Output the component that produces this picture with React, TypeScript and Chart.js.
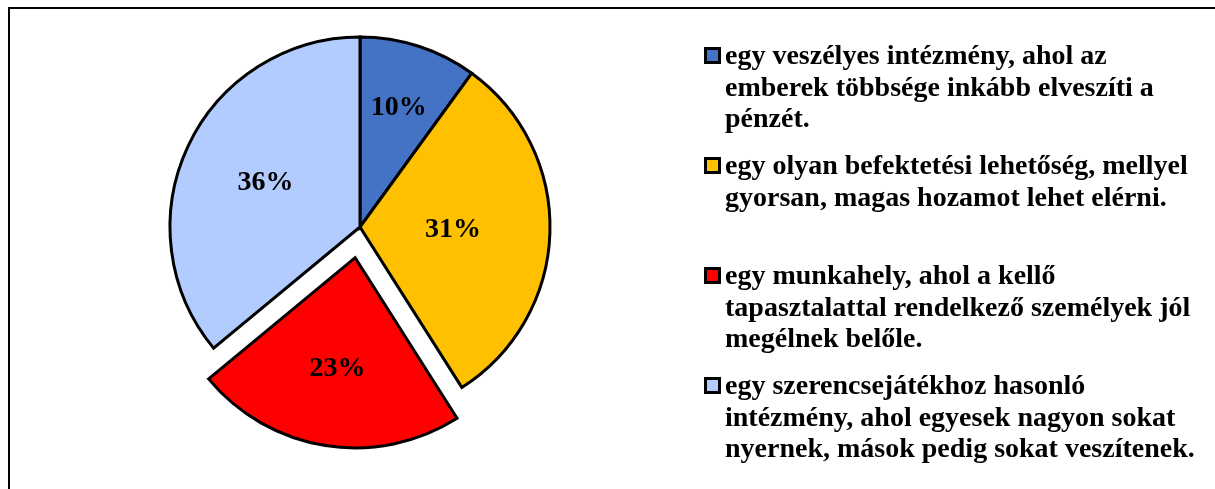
import React, { useEffect, useRef } from "react";
import { Chart, registerables } from "chart.js";

Chart.register(...registerables);

const categories: string[][] = [
  ["egy veszélyes intézmény, ahol az", "emberek többsége inkább elveszíti a", "pénzét."],
  ["egy olyan befektetési lehetőség, mellyel", "gyorsan, magas hozamot lehet elérni."],
  ["egy munkahely, ahol a kellő", "tapasztalattal rendelkező személyek jól", "megélnek belőle."],
  ["egy szerencsejátékhoz hasonló", "intézmény, ahol egyesek nagyon sokat", "nyernek, mások pedig sokat veszítenek."],
];
const values: number[] = [10, 31, 23, 36];
const colors: string[] = ["#4472C4", "#FFC000", "#FF0000", "#B3CCFF"];
const explode: number[] = [0, 0, 124, 0];
const labelRadius: number[] = [0.66, 0.49, 0.59, 0.55];

const FONT = '"Liberation Serif", "Times New Roman", serif';

const labelsPlugin = {
  id: "pctLabels",
  afterDatasetsDraw(chart: any) {
    const ctx = chart.ctx;
    const meta = chart.getDatasetMeta(0);
    const data = chart.data.datasets[0].data as number[];
    ctx.save();
    ctx.font = `bold 28px ${FONT}`;
    ctx.fillStyle = "#000";
    ctx.textAlign = "center";
    ctx.textBaseline = "middle";
    meta.data.forEach((arc: any, i: number) => {
      const mid = (arc.startAngle + arc.endAngle) / 2;
      const off = (arc.options.offset || 0) / 4;
      const r = arc.outerRadius * labelRadius[i];
      const x = arc.x + Math.cos(mid) * (off + r);
      const y = arc.y + Math.sin(mid) * (off + r);
      ctx.fillText(`${data[i]}%`, x, y);
    });
    ctx.restore();
  },
};

const legendPlugin = {
  id: "sideLegend",
  afterDraw(chart: any) {
    const ctx = chart.ctx;
    const labels = chart.data.labels as string[][];
    const bg = chart.data.datasets[0].backgroundColor as string[];
    const x0 = 704;
    const tx = 725;
    const y0 = 57;
    const itemGap = 110;
    const lineGap = 31.5;
    ctx.save();
    ctx.font = `bold 28px ${FONT}`;
    ctx.textBaseline = "middle";
    ctx.textAlign = "left";
    labels.forEach((lines, i) => {
      const y = y0 + i * itemGap;
      ctx.fillStyle = "#000";
      ctx.fillRect(x0, y - 10, 17, 17);
      ctx.fillStyle = bg[i];
      ctx.fillRect(x0 + 3, y - 7, 11, 11);
      ctx.fillStyle = "#000";
      lines.forEach((ln, j) => {
        ctx.fillText(ln, tx, y + j * lineGap);
      });
    });
    ctx.restore();
  },
};

export default function App() {
  const ref = useRef<HTMLCanvasElement>(null);
  useEffect(() => {
    if (!ref.current) return;
    const chart = new Chart(ref.current, {
      type: "pie",
      data: {
        labels: categories as any,
        datasets: [
          {
            data: values,
            backgroundColor: colors,
            borderColor: "#000",
            borderWidth: 3,
            borderJoinStyle: "miter",
            offset: explode,
          } as any,
        ],
      },
      options: {
        animation: false,
        responsive: false,
        maintainAspectRatio: false,
        radius: 190,
        layout: { padding: { left: 0, right: 495, top: 0, bottom: 35 } },
        plugins: {
          legend: { display: false },
          tooltip: { enabled: false },
        },
        events: [],
      } as any,
      plugins: [labelsPlugin, legendPlugin],
    });
    return () => chart.destroy();
  }, []);
  return (
    <div style={{ position: "absolute", left: 0, top: 0, width: 1215, height: 489, overflow: "hidden", background: "#fff" }}>
      <div
        style={{
          position: "absolute",
          left: 8,
          top: 7,
          width: 1300,
          height: 600,
          borderLeft: "2px solid #000",
          borderTop: "2px solid #000",
        }}
      />
      <canvas ref={ref} width={1215} height={489} style={{ position: "absolute", left: 0, top: 0 }} />
    </div>
  );
}
